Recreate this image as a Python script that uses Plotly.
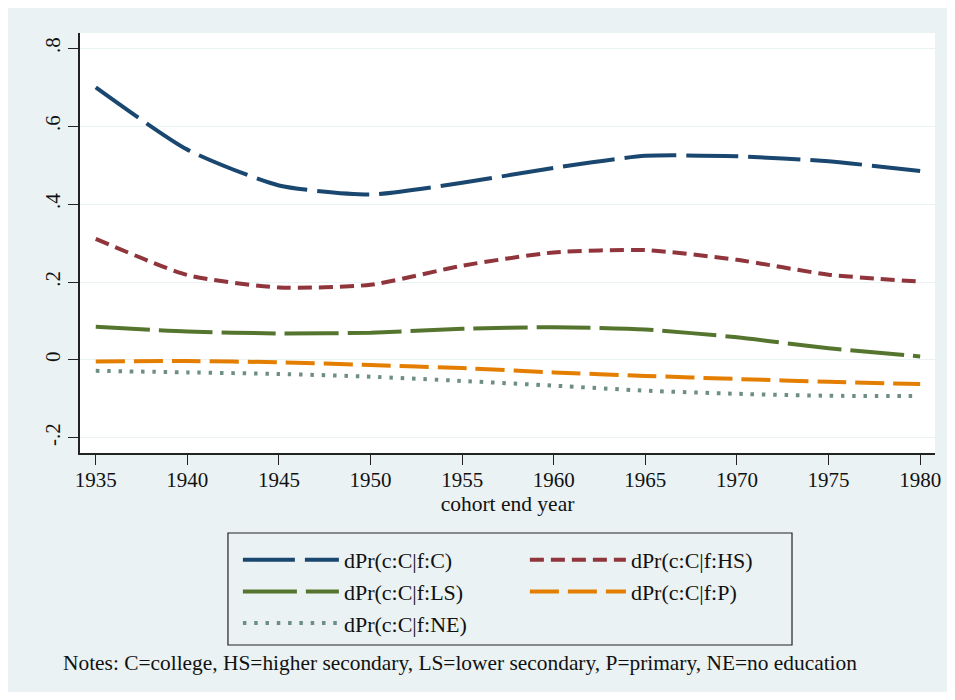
import plotly.graph_objects as go

years = [1935, 1940, 1945, 1950, 1955, 1960, 1965, 1970, 1975, 1980]
dpr_C = [0.700, 0.540, 0.448, 0.425, 0.455, 0.493, 0.524, 0.523, 0.510, 0.485]
dpr_HS = [0.311, 0.218, 0.186, 0.193, 0.242, 0.276, 0.282, 0.257, 0.219, 0.201]
dpr_LS = [0.085, 0.073, 0.068, 0.070, 0.080, 0.084, 0.078, 0.058, 0.030, 0.009]
dpr_P = [-0.004, -0.003, -0.006, -0.013, -0.021, -0.032, -0.041, -0.049, -0.056, -0.062]
dpr_NE = [-0.028, -0.032, -0.036, -0.043, -0.054, -0.066, -0.079, -0.087, -0.092, -0.093]

names = ["dPr(c:C|f:C)", "dPr(c:C|f:HS)", "dPr(c:C|f:LS)", "dPr(c:C|f:P)", "dPr(c:C|f:NE)"]
ytick_vals = [-0.2, 0, 0.2, 0.4, 0.6, 0.8]
ytick_text = ["-.2", "0", ".2", ".4", ".6", ".8"]
xtick_vals = years

FONT = "Liberation Serif"
BG = "#EAF2F3"
TXT = "#111111"

series = [
    (names[0], dpr_C, "#1A476F", "52px,10px", "legend"),
    (names[1], dpr_HS, "#90353B", "14px,7px", "legend2"),
    (names[2], dpr_LS, "#55752F", "54px,9px", "legend"),
    (names[3], dpr_P, "#E37E00", "29px,9px", "legend2"),
    (names[4], dpr_NE, "#6E8E84", "3.5px,7.8px", "legend"),
]

fig = go.Figure()
for nm, ys, col, dash, lg in series:
    fig.add_trace(go.Scatter(
        x=years, y=ys, mode="lines", name=nm, legend=lg, legendgroup=nm,
        line=dict(color=col, width=4, dash=dash, shape="spline", smoothing=0.6),
    ))

# figure is offset by the page's 8px body margin; sized to fit the window exactly
OFF = 8
W, H = 939, 684
L, R, T, B = 72, 6, 25, 239
pw, ph = W - L - R, H - T - B

def su(sx):
    return (sx - OFF - L) / pw

def sv(sy):
    return (H - B - (sy - OFF)) / ph

shapes = [
    dict(type="rect", xref="paper", yref="paper",
         x0=su(229), x1=su(797), y0=sv(645), y1=sv(533),
         fillcolor="rgba(0,0,0,0)", line=dict(color="#222222", width=1.2)),
]

legend_common = dict(
    bgcolor="rgba(0,0,0,0)", borderwidth=0, orientation="v",
    font=dict(family=FONT, size=22, color=TXT),
    itemwidth=96, tracegroupgap=0, xanchor="left", yanchor="top",
    itemclick=False, itemdoubleclick=False,
)

fig.update_layout(
    width=W, height=H, autosize=False,
    margin=dict(l=L, r=R, t=T, b=B),
    paper_bgcolor=BG, plot_bgcolor="white",
    font=dict(family=FONT, size=21, color=TXT),
    shapes=shapes,
    legend=dict(legend_common, x=su(239), y=sv(539)),
    legend2=dict(legend_common, x=su(528), y=sv(539)),
    annotations=[
        dict(text="Notes: C=college, HS=higher secondary, LS=lower secondary, P=primary, NE=no education",
             xref="paper", yref="paper", x=su(61), y=sv(663),
             xanchor="left", yanchor="middle", showarrow=False,
             font=dict(family=FONT, size=21.4, color=TXT)),
    ],
)

fig.update_xaxes(
    range=[1934.14, 1980.81], tickvals=xtick_vals, ticks="outside", ticklen=10,
    tickwidth=1.2, tickcolor="#222222", showline=True, linecolor="#222222", linewidth=1.5,
    showgrid=False, zeroline=False, ticklabelstandoff=-3, ticklabeloverflow="allow",
    tickfont=dict(family=FONT, size=21, color=TXT),
    title=dict(text="cohort end year", font=dict(family=FONT, size=21.5, color=TXT), standoff=4),
)
fig.update_yaxes(
    range=[-0.239, 0.8395], tickvals=ytick_vals, ticktext=ytick_text, ticks="outside",
    ticklen=10, tickwidth=1.2, tickcolor="#222222", showline=True, linecolor="#222222",
    linewidth=1.5, showgrid=True, gridcolor=BG, gridwidth=1.2, zeroline=False,
    tickangle=-90, tickfont=dict(family=FONT, size=21, color=TXT),
)

fig.write_html("out.html", config={"responsive": False})
